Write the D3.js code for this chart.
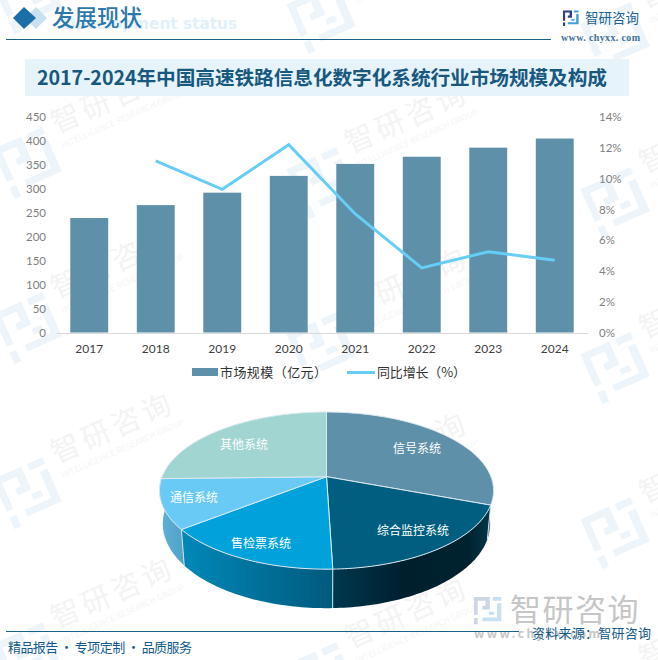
<!DOCTYPE html>
<html>
<head>
<meta charset="utf-8">
<style>
html, body { margin: 0; padding: 0; background: #fff; overflow: hidden; }
text { font-family: "Noto Sans CJK SC", "Noto Sans", sans-serif; }
</style>
</head>
<body>
<script src="https://d3js.org/d3.v7.min.js"></script>
<script>
// chart values
var years = ['2017','2018','2019','2020','2021','2022','2023','2024'];
var marketSize = [239, 266, 292, 327, 352, 367, 386, 405];
var growth = [null, 11.15, 9.3, 12.2, 7.7, 4.2, 5.25, 4.7];
var leftTicks = [0,50,100,150,200,250,300,350,400,450];
var rightTicks = [0,2,4,6,8,10,12,14];
var pieNames = ['信号系统','综合监控系统','售检票系统','通信系统','其他系统'];
var pieShares = [30.7, 18.8, 14.9, 10.2, 25.4];
var pieColors = ['#5e90a9','#005f80','#00a2db','#69caf5','#a0d5d2'];
var pieSides = ['#4a7a91','url(#sideB)','url(#sideC)','url(#sideD)','#8fc4c1'];
// label anchor per slice
var pieLabelX = [417, 413, 261, 194, 244];
var pieLabelY = [448, 530, 543, 497, 444];

var width = 658, height = 660;
var svg = d3.select('body').append('svg')
	.attr('width', width)
	.attr('height', height)
	.style('display', 'block');

var defs = svg.append('defs');
function gradient(id, x1, x2, stops) {
	var g = defs.append('linearGradient').attr('id', id)
		.attr('gradientUnits', 'userSpaceOnUse')
		.attr('x1', x1).attr('x2', x2).attr('y1', 0).attr('y2', 0);
	stops.forEach(function(s) {
		g.append('stop').attr('offset', s[0]).attr('stop-color', s[1]);
	});
}
gradient('sideB', 332, 492, [[0,'#00384f'],[0.45,'#001f2d'],[0.85,'#00222f'],[1,'#05384c']]);
gradient('sideC', 184, 332, [[0,'#0088b8'],[1,'#005a7e']]);
gradient('sideD', 160, 186, [[0,'#5fb2d8'],[1,'#4f9fc6']]);

// the company mark, 26 units square
function logo(g, dark, light) {
	g.append('path').attr('fill', dark)
		.attr('d', 'M0 0H15V12H8V8.5H11V3.5H3.5V17H0Z M0 20H3.5V26H0Z');
	g.append('path').attr('fill', light)
		.attr('d', 'M18 0H26V3.5H18Z M22 6H26V23H8V19.5H22Z M14 14H19V17H14Z');
}

// faint watermark tiles
var wm = svg.append('g');
d3.range(0, 3).forEach(function(i) {
	d3.range(-1, 4).forEach(function(j) {
		var x = 28 + 294 * i, y = 163 + 165 * j + 20 * i;
		var t = wm.append('g').attr('transform', 'translate(' + x + ',' + y + ') rotate(-24)');
		var l = t.append('g').attr('transform', 'translate(-27,-27) scale(2.1)');
		logo(l, '#eef5fa', '#eef5fa');
		t.append('text').attr('x', 38).attr('y', -15)
			.attr('font-size', 29).attr('letter-spacing', 4).attr('fill', '#f3f3f3').text('智研咨询');
		t.append('text').attr('x', 38).attr('y', 1)
			.attr('font-size', 8.5).attr('fill', '#f5f5f5').text('INTELLIGENCE RESEARCH GROUP');
	});
});

// header
svg.append('path').attr('d', 'M36 7L47 18L36 29L25 18Z').attr('fill', '#c9e0ee');
svg.append('path').attr('d', 'M24 7L36 18L24 29L13 18Z').attr('fill', '#1a6fa9');
svg.append('text').attr('x', 63).attr('y', 29)
	.attr('font-size', 15.3).attr('font-weight', 700).attr('fill', '#e2f0fa')
	.style('font-family', 'DejaVu Sans').text('Development status');
svg.append('text').attr('x', 52).attr('y', 26)
	.attr('font-size', 22.5).attr('font-weight', 500).attr('fill', '#2a78ad').text('发展现状');
svg.append('line').attr('x1', 6).attr('x2', 551).attr('y1', 39.5).attr('y2', 39.5)
	.attr('stroke', '#1a6088').attr('stroke-width', 1);
var topLogo = svg.append('g').attr('transform', 'translate(563,10.5) scale(0.6)');
logo(topLogo, '#2c3f86', '#3f9fdc');
svg.append('text').attr('x', 585).attr('y', 23)
	.attr('font-size', 13.5).attr('fill', '#1c6491').text('智研咨询');
svg.append('text').attr('x', 561).attr('y', 41)
	.attr('font-size', 10).attr('font-weight', 700).attr('fill', '#3f7196')
	.attr('textLength', 79).style('font-family', 'Liberation Serif').text('www. chyxx. com');

// title band
svg.append('rect').attr('x', 25).attr('y', 59).attr('width', 604).attr('height', 37).attr('fill', '#e6f3fb');
svg.append('text').attr('x', 37).attr('y', 85)
	.attr('font-size', 19.7).attr('font-weight', 700).attr('fill', '#17587f')
	.attr('textLength', 570).attr('lengthAdjust', 'spacing')
	.text('2017-2024年中国高速铁路信息化数字化系统行业市场规模及构成');

// combo chart
var x = d3.scaleBand().domain(years).range([56, 588]).paddingInner(0.43).paddingOuter(0.215);
var yL = d3.scaleLinear().domain([0, 450]).range([332.5, 117]);
var yR = d3.scaleLinear().domain([0, 14]).range([332.5, 117]);

svg.append('g').selectAll('rect').data(years).enter().append('rect')
	.attr('x', function(d) { return x(d); })
	.attr('width', x.bandwidth())
	.attr('y', function(d, i) { return yL(marketSize[i]); })
	.attr('height', function(d, i) { return yL(0) - yL(marketSize[i]); })
	.attr('fill', '#5e90a9');

var axisL = svg.append('g').attr('transform', 'translate(46,0)')
	.call(d3.axisLeft(yL).tickValues(leftTicks).tickSize(0).tickPadding(0));
var axisR = svg.append('g').attr('transform', 'translate(599,0)')
	.call(d3.axisRight(yR).tickValues(rightTicks).tickSize(0).tickPadding(0)
		.tickFormat(function(d) { return d + '%'; }));
var axisB = svg.append('g').attr('transform', 'translate(0,333)')
	.call(d3.axisBottom(x).tickSize(0).tickPadding(11));
[axisL, axisR].forEach(function(a) {
	a.select('.domain').remove();
	a.selectAll('text').attr('font-size', 11.5).attr('fill', '#7f7f7f')
		.style('font-family', 'Lato, "Noto Sans"');
});
axisB.select('.domain').attr('stroke', '#d9d9d9');
axisB.selectAll('text').attr('font-size', 12).attr('fill', '#404040')
	.style('font-family', 'Lato, "Noto Sans"');

var growthLine = d3.line()
	.defined(function(d) { return d !== null; })
	.x(function(d, i) { return x(years[i]) + x.bandwidth() / 2; })
	.y(function(d) { return yR(d); });
svg.append('path').attr('d', growthLine(growth))
	.attr('fill', 'none').attr('stroke', '#66cdf6').attr('stroke-width', 3);

// legend
svg.append('rect').attr('x', 192).attr('y', 368).attr('width', 26).attr('height', 8).attr('fill', '#5e90a9');
svg.append('text').attr('x', 220).attr('y', 377).attr('font-size', 13).attr('fill', '#333')
	.attr('textLength', 107).text('市场规模（亿元）');
svg.append('line').attr('x1', 347).attr('x2', 375).attr('y1', 372.5).attr('y2', 372.5)
	.attr('stroke', '#66cdf6').attr('stroke-width', 3);
svg.append('text').attr('x', 377).attr('y', 377).attr('font-size', 13).attr('fill', '#333')
	.attr('textLength', 89).text('同比增长（%）');

// 3d pie: d3.pie angles pushed through a perspective of the disc
var pieCx = 326.5, pieCy = 476.7, pieR = 164.4, pieS = 76.1, pieK = 0.177, pieDepth = 32.1, pieTaper = 0.98;
function rim(a, drop) {
	var u = Math.sin(a), v = -Math.cos(a), w = 1 - pieK * v;
	return [pieCx + (drop ? pieTaper : 1) * pieR * u / w, pieCy + pieS * v / w + (drop ? pieDepth / w : 0)];
}
function arcPoints(a0, a1, drop) {
	var n = Math.max(2, Math.ceil((a1 - a0) / 0.02));
	return d3.range(n + 1).map(function(i) { return rim(a0 + (a1 - a0) * i / n, drop); });
}
var slices = d3.pie().sort(null)(pieShares);
var closedLine = d3.line().curve(d3.curveLinearClosed);

var pieG = svg.append('g');
var front0 = Math.PI / 2, front1 = Math.PI * 1.5;
slices.forEach(function(s, i) {
	var a0 = Math.max(s.startAngle, front0), a1 = Math.min(s.endAngle, front1);
	if (a1 <= a0) return;
	var pts = arcPoints(a0, a1, false).concat(arcPoints(a0, a1, true).reverse());
	pieG.append('path').attr('d', closedLine(pts)).attr('fill', pieSides[i]);
	// pale seam at the slice start
	if (s.startAngle > front0) {
		pieG.append('line')
			.attr('x1', rim(s.startAngle, false)[0]).attr('y1', rim(s.startAngle, false)[1])
			.attr('x2', rim(s.startAngle, true)[0]).attr('y2', rim(s.startAngle, true)[1])
			.attr('stroke', '#cfe3ec').attr('stroke-width', 1);
	}
});
slices.forEach(function(s, i) {
	var pts = [[pieCx, pieCy]].concat(arcPoints(s.startAngle, s.endAngle, false));
	pieG.append('path').attr('d', closedLine(pts))
		.attr('fill', pieColors[i])
		.attr('stroke', '#dbe9f0').attr('stroke-width', 1).attr('stroke-linejoin', 'round');
});
pieG.selectAll('text').data(pieNames).enter().append('text')
	.attr('x', function(d, i) { return pieLabelX[i]; })
	.attr('y', function(d, i) { return pieLabelY[i] + 4.5; })
	.attr('text-anchor', 'middle')
	.attr('font-size', 12).attr('fill', '#fff')
	.text(function(d) { return d; });

// bottom right mark and footer
var bigLogo = svg.append('g').attr('transform', 'translate(474,597) scale(1.05)');
logo(bigLogo, '#cdd5e6', '#c8e0f2');
svg.append('text').attr('x', 510).attr('y', 621)
	.attr('font-size', 31).attr('letter-spacing', 1.5).attr('fill', '#c6c6c6').text('智研咨询');
svg.append('text').attr('x', 474).attr('y', 638)
	.attr('font-size', 12).attr('font-weight', 700).attr('fill', '#c6c6c6')
	.attr('textLength', 126).text('www.chyxx.com');
svg.append('line').attr('x1', 6).attr('x2', 519).attr('y1', 631.5).attr('y2', 631.5)
	.attr('stroke', '#1a6088').attr('stroke-width', 1);
svg.append('text').attr('x', 8).attr('y', 652)
	.attr('font-size', 13).attr('fill', '#135a8a')
	.attr('textLength', 184).text('精品报告 · 专项定制 · 品质服务');
svg.append('text').attr('x', 532).attr('y', 638)
	.attr('font-size', 13).attr('fill', '#135a8a')
	.attr('textLength', 119).text('资料来源：智研咨询');
</script>
</body>
</html>
